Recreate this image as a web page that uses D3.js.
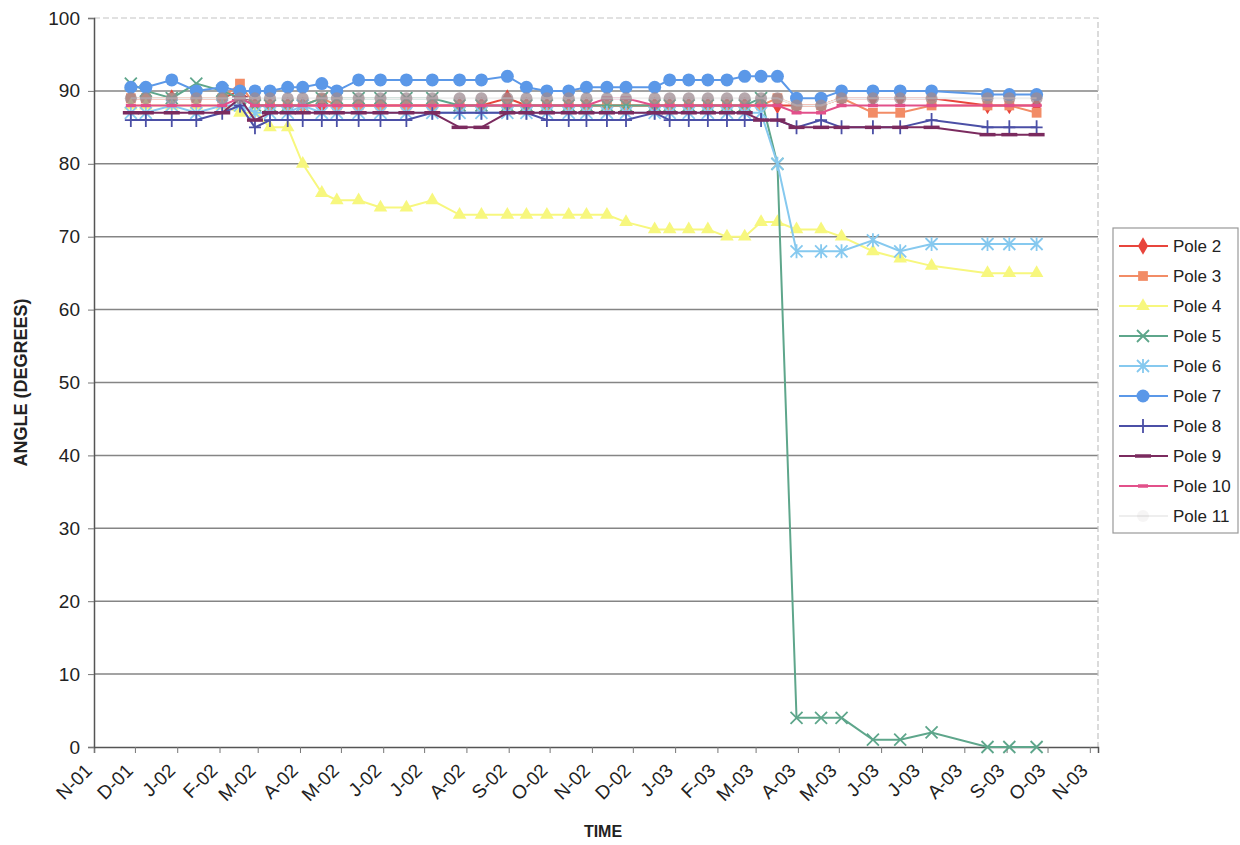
<!DOCTYPE html>
<html>
<head>
<meta charset="utf-8">
<script src="https://cdn.jsdelivr.net/npm/d3@7"></script>
<style>
  body { margin: 0; background: #fff; }
  svg { font-family: Arial, "Liberation Sans", sans-serif; }
</style>
</head>
<body>
<div id="chart"></div>
<script>
// measurement dates
const dates = ["2001-11-28","2001-12-09","2001-12-28","2002-01-15","2002-02-03","2002-02-16","2002-02-27",
  "2002-03-10","2002-03-23","2002-04-03","2002-04-17","2002-04-28","2002-05-14","2002-05-30","2002-06-18",
  "2002-07-07","2002-07-27","2002-08-12","2002-08-31","2002-09-14","2002-09-29","2002-10-15","2002-10-28",
  "2002-11-12","2002-11-26","2002-12-17","2002-12-28","2003-01-11","2003-01-25","2003-02-08","2003-02-21",
  "2003-03-05","2003-03-17","2003-03-31","2003-04-18","2003-05-03","2003-05-26","2003-06-15","2003-07-08",
  "2003-08-18","2003-09-03","2003-09-23"]

const pole2  = [89,89,89,89,89,90,88,88,88,88,88,88,88,88,88,88,88,88,89,88,88,88,88,88,88,88,88,88,88,88,88,88,88,88,88,89,89,89,89,88,88,88]
const pole3  = [89,89,89,89,89,91,88,88,88,88,89,88,88,88,88,88,88,88,88,88,88,88,88,88,88,88,88,88,88,88,88,88,89,88,88,89,87,87,88,88,88,87]
const pole4  = [88,88,88,88,88,87,87,85,85,80,76,75,75,74,74,75,73,73,73,73,73,73,73,73,72,71,71,71,71,70,70,72,72,71,71,70,68,67,66,65,65,65]
const pole5  = [91,90,89,91,90,89,88,88,88,88,89,89,89,89,89,89,88,88,88,88,88,88,88,88,88,88,88,88,88,88,88,89,80,4,4,4,1,1,2,0,0,0]
const pole6  = [87,87,88,87,88,88,87,87,87,88,87,87,87,87,87,87,87,87,87,87,87,87,87,87,87,87,87,87,87,87,87,87,80,68,68,68,69.5,68,69,69,69,69]
const pole7  = [90.5,90.5,91.5,90,90.5,90,90,90,90.5,90.5,91,90,91.5,91.5,91.5,91.5,91.5,91.5,92,90.5,90,90,90.5,90.5,90.5,90.5,91.5,91.5,91.5,91.5,92,92,92,89,89,90,90,90,90,89.5,89.5,89.5]
const pole8  = [86,86,86,86,87,88,85,86,86,86,86,86,86,86,86,87,87,87,87,87,86,86,86,86,86,87,86,86,86,86,86,86,86,85,86,85,85,85,86,85,85,85]
const pole9  = [87,87,87,87,87,89,86,87,87,87,87,87,87,87,87,87,85,85,87,87,87,87,87,87,87,87,87,87,87,87,87,86,86,85,85,85,85,85,85,84,84,84]
const pole10 = [88,88,88,88,88,89,88,88,88,88,88,88,88,88,88,88,88,88,88,88,88,88,88,89,89,88,88,88,88,88,88,88,88,87,87,88,88,88,88,88,88,88]
const pole11 = [89,89,89,89,89,89,89,89,89,89,89,89,89,89,89,89,89,89,89,89,89,89,89,89,89,89,89,89,89,89,89,89,89,88,88,89,89,89,89,89,89,89]

const poleNames = ["Pole 2","Pole 3","Pole 4","Pole 5","Pole 6","Pole 7","Pole 8","Pole 9","Pole 10","Pole 11"]
const poleValues = [pole2, pole3, pole4, pole5, pole6, pole7, pole8, pole9, pole10, pole11]
const yTicks = [0,10,20,30,40,50,60,70,80,90,100]

// ----------------------------------------------------------

const width  = 1240;
const height = 845;
const plot = { left: 94, right: 1098, top: 18, bottom: 747 };

const colors  = ["#e8453c","#f28c66","#f7f77e","#5ea68b","#86c9ef","#5b98e8","#4b4fa6","#7b2b5f","#e2508a","#eeeeee"]
const markers = ["diamond","square","triangle","x","star","circle","plus","bar","short","faint"]

const parse = d3.timeParse("%Y-%m-%d")
const dateObjs = dates.map(parse)

const svg = d3.select("#chart")
    .append("svg")
    .attr("width",  width)
    .attr("height", height)

var x = d3.scaleTime()
    .domain([new Date(2001, 10, 1), new Date(2003, 10, 7)])
    .range([plot.left, plot.right])
var y = d3.scaleLinear().domain([0, 100]).range([plot.bottom, plot.top])

// grid
svg.append("g")
    .selectAll("line")
    .data(yTicks.filter(d => d > 0 && d < 100))
    .join("line")
        .attr("x1", plot.left)
        .attr("x2", plot.right)
        .attr("y1", d => y(d))
        .attr("y2", d => y(d))
        .attr("stroke", "#858585")
        .attr("stroke-width", 1.5)

// frame top/right (faint dashed)
svg.append("path")
    .attr("d", `M${plot.left},${y(100)}H${plot.right}V${plot.bottom}`)
    .attr("fill", "none")
    .attr("stroke", "#c4c4c4")
    .attr("stroke-width", 1.2)
    .attr("stroke-dasharray", "6,3")

// axes
const months = d3.timeMonth.range(new Date(2001, 10, 1), new Date(2003, 10, 2))
const monthFmt = d3.timeFormat("%b")
const yearFmt  = d3.timeFormat("%y")

const xAxis = d3.axisBottom(x)
    .tickValues(months)
    .tickSize(6)
    .tickFormat(d => monthFmt(d)[0] + "-" + yearFmt(d))

const xAxisGroup = svg.append("g")
    .attr("transform", `translate(0, ${plot.bottom})`)
    .call(xAxis)
xAxisGroup.select(".domain").attr("stroke", "#555").attr("stroke-width", 1.5)
xAxisGroup.selectAll(".tick line").attr("stroke", "#777")
xAxisGroup.selectAll(".tick text")
    .attr("font-size", 19)
    .attr("fill", "#222")
    .attr("text-anchor", "end")
    .attr("transform", "translate(-6, 20) rotate(-45)")
    .attr("dy", "0.35em")
    .attr("y", 0)

const yAxis = d3.axisLeft(y).tickValues(yTicks).tickSize(6).tickPadding(8)
const yAxisGroup = svg.append("g")
    .attr("transform", `translate(${plot.left}, 0)`)
    .call(yAxis)
yAxisGroup.select(".domain").attr("stroke", "#555").attr("stroke-width", 1.5)
yAxisGroup.selectAll(".tick line").attr("stroke", "#777")
yAxisGroup.selectAll(".tick text").attr("font-size", 19).attr("fill", "#222")

svg.append("text")
    .text("ANGLE (DEGREES)")
    .attr("transform", `translate(27, ${(plot.top + plot.bottom) / 2}) rotate(-90)`)
    .attr("text-anchor", "middle")
    .attr("font-size", 18)
    .attr("font-weight", "bold")
    .attr("fill", "#222")

svg.append("text")
    .text("TIME")
    .attr("x", 603)
    .attr("y", 837)
    .attr("text-anchor", "middle")
    .attr("font-size", 16)
    .attr("font-weight", "bold")
    .attr("fill", "#222")

// marker drawing
function drawMarker(g, type, color) {
    if (type === "diamond") {
        g.append("path").attr("d", d3.symbol(d3.symbolDiamond, 90)()).attr("fill", color)
    } else if (type === "square") {
        g.append("path").attr("d", d3.symbol(d3.symbolSquare, 95)()).attr("fill", color)
    } else if (type === "triangle") {
        g.append("path").attr("d", d3.symbol(d3.symbolTriangle, 80)()).attr("fill", color)
    } else if (type === "x") {
        g.append("path").attr("d", "M-6,-6L6,6M-6,6L6,-6").attr("stroke", color).attr("stroke-width", 1.8)
    } else if (type === "star") {
        g.append("path").attr("d", "M-6,-6L6,6M-6,6L6,-6M0,-7V7").attr("stroke", color).attr("stroke-width", 1.8)
    } else if (type === "circle") {
        g.append("circle").attr("r", 6.5).attr("fill", color)
    } else if (type === "plus") {
        g.append("path").attr("d", "M-6,0H6M0,-7V7").attr("stroke", color).attr("stroke-width", 1.8)
    } else if (type === "bar") {
        g.append("path").attr("d", "M-8,0H8").attr("stroke", color).attr("stroke-width", 3.5)
    } else if (type === "short") {
        g.append("path").attr("d", "M-5,0H5").attr("stroke", color).attr("stroke-width", 3.5)
    } else if (type === "faint") {
        g.append("circle").attr("r", 6).attr("fill", "#9d8b92").attr("fill-opacity", 0.75)
    }
}

const line = d3.line()
    .x((d, i) => x(dateObjs[i]))
    .y(d => y(d))

const seriesGroup = svg.append("g")
poleValues.forEach((vals, k) => {
    const g = seriesGroup.append("g")
    g.append("path")
        .datum(vals)
        .attr("d", line)
        .attr("fill", "none")
        .attr("stroke", colors[k])
        .attr("stroke-width", 2)
    g.selectAll("g.m")
        .data(vals)
        .join("g")
        .attr("class", "m")
        .attr("transform", (d, i) => `translate(${x(dateObjs[i])}, ${y(d)})`)
        .each(function() { drawMarker(d3.select(this), markers[k], colors[k]) })
})

// legend
const legend = svg.append("g").attr("transform", "translate(1113, 228)")
legend.append("rect")
    .attr("width", 125)
    .attr("height", 305)
    .attr("fill", "#fff")
    .attr("stroke", "#999")
    .attr("stroke-width", 1.2)

const item = legend.selectAll("g.item")
    .data(poleNames)
    .join("g")
    .attr("class", "item")
    .attr("transform", (d, i) => `translate(0, ${18 + i * 30})`)

item.append("line")
    .attr("x1", 6).attr("x2", 55)
    .attr("stroke", (d, i) => colors[i])
    .attr("stroke-width", 2)
item.each(function(d, i) {
    const m = d3.select(this).append("g").attr("transform", "translate(30, 0)")
    drawMarker(m, markers[i], colors[i])
    if (markers[i] === "faint") m.attr("opacity", 0.12)
})
item.append("text")
    .text(d => d)
    .attr("x", 60)
    .attr("dy", "0.35em")
    .attr("font-size", 17)
    .attr("fill", "#222")
</script>
</body>
</html>
